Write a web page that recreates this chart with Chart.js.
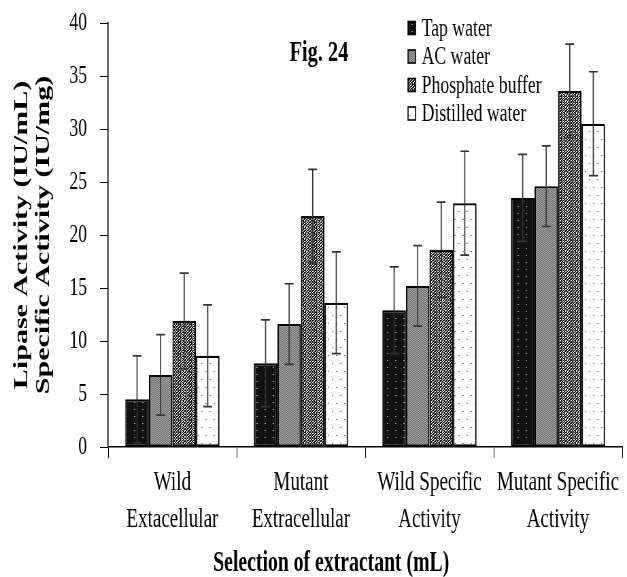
<!DOCTYPE html>
<html>
<head>
<meta charset="utf-8">
<script src="https://cdn.jsdelivr.net/npm/chart.js@4/dist/chart.umd.min.js"></script>
<style>
html, body { margin: 0; padding: 0; background: #fff; }
</style>
</head>
<body>
<!-- the source figure is squeezed sideways, so the canvas is drawn wide and shown narrow -->
<canvas id="chart" width="922" height="577" style="display:block;width:627px;height:577px"></canvas>
<script>
var categories = [['Wild', 'Extacellular'], ['Mutant', 'Extracellular'], ['Wild Specific', 'Activity'], ['Mutant Specific', 'Activity']];
var seriesNames = ['Tap water', 'AC water', 'Phosphate buffer', 'Distilled water'];
var tapWater = [4.5, 7.9, 12.9, 23.5];
var tapWaterErr = [4.1, 4.1, 4.1, 4.1];
var acWater = [6.8, 11.6, 15.2, 24.6];
var acWaterErr = [3.8, 3.8, 3.8, 3.8];
var phosphateBuffer = [11.9, 21.8, 18.6, 33.6];
var phosphateBufferErr = [4.5, 4.4, 4.5, 4.4];
var distilledWater = [8.6, 13.6, 23.0, 30.5];
var distilledWaterErr = [4.8, 4.8, 4.9, 4.9];
var yTicks = [0, 5, 10, 15, 20, 25, 30, 35, 40];
var figLabel = 'Fig. 24';
var xTitle = 'Selection of extractant (mL)';
var yTitle = ['Lipase Activity (IU/mL)', 'Specific Activity (IU/mg)'];

var SERIF = "'Liberation Serif', 'Times New Roman', serif";

// small tiles for the hatch fills
function tile(w, h, draw) {
    var c = document.createElement('canvas');
    c.width = w;
    c.height = h;
    var g = c.getContext('2d');
    draw(g);
    return g.createPattern(c, 'repeat');
}

var fillTap = tile(12, 7, function (g) {
    g.fillStyle = '#111';
    g.fillRect(0, 0, 12, 7);
    g.fillStyle = '#9a9a9a';
    g.fillRect(5, 3, 2, 1);
});
var fillAC = tile(4, 2, function (g) {
    g.fillStyle = '#a2a2a2';
    g.fillRect(0, 0, 4, 2);
    g.fillStyle = '#707070';
    g.fillRect(0, 0, 2, 1);
    g.fillRect(2, 1, 2, 1);
});
// speckled black/white for phosphate buffer
var speckle = [
    '11011011',
    '01100110',
    '11011101',
    '10110011',
    '01101110',
    '11010110'
];
var fillPhosphate = tile(8, 6, function (g) {
    g.fillStyle = '#fff';
    g.fillRect(0, 0, 8, 6);
    g.fillStyle = '#111';
    speckle.forEach(function (row, r) {
        for (var c = 0; c < row.length; c++) {
            if (row[c] === '1') g.fillRect(c, r, 1, 1);
        }
    });
});
var fillDistilled = tile(12, 16, function (g) {
    g.fillStyle = '#fff';
    g.fillRect(0, 0, 12, 16);
    g.fillStyle = '#777';
    g.fillRect(2, 3, 2, 1);
    g.fillRect(8, 11, 2, 1);
});

var errorBars = {
    id: 'errorBars',
    afterDatasetsDraw: function (chart) {
        var ctx = chart.ctx;
        var y = chart.scales.y;
        ctx.save();
        ctx.strokeStyle = '#333';
        ctx.lineWidth = 1.7;
        chart.data.datasets.forEach(function (ds, i) {
            chart.getDatasetMeta(i).data.forEach(function (bar, j) {
                var top = y.getPixelForValue(ds.data[j] + ds.errors[j]);
                var bot = y.getPixelForValue(Math.max(ds.data[j] - ds.errors[j], 0));
                ctx.beginPath();
                ctx.moveTo(bar.x, top);
                ctx.lineTo(bar.x, bot);
                ctx.moveTo(bar.x - 6.5, top);
                ctx.lineTo(bar.x + 6.5, top);
                ctx.moveTo(bar.x - 6.5, bot);
                ctx.lineTo(bar.x + 6.5, bot);
                ctx.stroke();
            });
        });
        ctx.restore();
    }
};

var extras = {
    id: 'extras',
    afterDraw: function (chart) {
        var ctx = chart.ctx;
        ctx.save();
        ctx.fillStyle = '#000';
        ctx.textBaseline = 'middle';

        // legend
        ctx.font = '26px ' + SERIF;
        ctx.textAlign = 'left';
        chart.data.datasets.forEach(function (ds, i) {
            var cy = 28 + i * 28.5;
            ctx.fillStyle = ds.backgroundColor;
            ctx.fillRect(600, cy - 6.5, 11, 13);
            ctx.strokeStyle = '#000';
            ctx.lineWidth = 1.6;
            ctx.strokeRect(600, cy - 6.5, 11, 13);
            ctx.fillStyle = '#000';
            ctx.fillText(ds.label, 620, cy + 1);
        });

        ctx.textAlign = 'center';
        ctx.font = 'bold 30px ' + SERIF;
        ctx.fillText(figLabel, 469, 53);

        ctx.font = 'bold 29px ' + SERIF;
        ctx.fillText(xTitle, 487, 564);
        ctx.restore();
    }
};

var ctx = document.getElementById('chart').getContext('2d');
var chart = new Chart(ctx, {
    type: 'bar',
    data: {
        labels: categories,
        datasets: [
            { label: seriesNames[0], data: tapWater, errors: tapWaterErr, backgroundColor: fillTap },
            { label: seriesNames[1], data: acWater, errors: acWaterErr, backgroundColor: fillAC },
            { label: seriesNames[2], data: phosphateBuffer, errors: phosphateBufferErr, backgroundColor: fillPhosphate },
            { label: seriesNames[3], data: distilledWater, errors: distilledWaterErr, backgroundColor: fillDistilled }
        ]
    },
    options: {
        responsive: false,
        devicePixelRatio: 1,
        animation: false,
        layout: { padding: { left: 0, right: 7, top: 23, bottom: 0 } },
        datasets: {
            bar: {
                borderColor: '#000',
                borderWidth: 2.2,
                borderSkipped: false,
                categoryPercentage: 0.733,
                barPercentage: 1.0
            }
        },
        plugins: {
            legend: { display: false },
            tooltip: { enabled: false }
        },
        scales: {
            x: {
                grid: { display: true, drawOnChartArea: false, drawTicks: true, tickLength: 11, color: '#000', offset: true },
                border: { color: '#000', width: 1.6 },
                ticks: {
                    color: '#000',
                    padding: 6,
                    maxRotation: 0,
                    autoSkip: false,
                    font: { family: SERIF, size: 28, lineHeight: 1.32 }
                },
                afterFit: function (scale) {
                    scale.height = 130;
                    scale.paddingLeft = 0;
                    scale.paddingRight = 0;
                }
            },
            y: {
                min: 0,
                max: 40,
                afterBuildTicks: function (scale) {
                    scale.ticks = yTicks.map(function (v) { return { value: v }; });
                },
                grid: { display: true, drawOnChartArea: false, drawTicks: true, tickLength: 12, color: '#000' },
                border: { color: '#000', width: 1.6 },
                ticks: {
                    color: '#000',
                    padding: 19,
                    font: { family: SERIF, size: 26 }
                },
                title: {
                    display: true,
                    text: yTitle,
                    color: '#000',
                    padding: { top: 16.2, bottom: 0 },
                    font: { family: SERIF, size: 30, weight: 'bold', lineHeight: 1.077 }
                },
                afterFit: function (scale) {
                    scale.width = 159;
                    scale.paddingTop = 0;
                    scale.paddingBottom = 0;
                }
            }
        }
    },
    plugins: [errorBars, extras]
});
</script>
</body>
</html>
